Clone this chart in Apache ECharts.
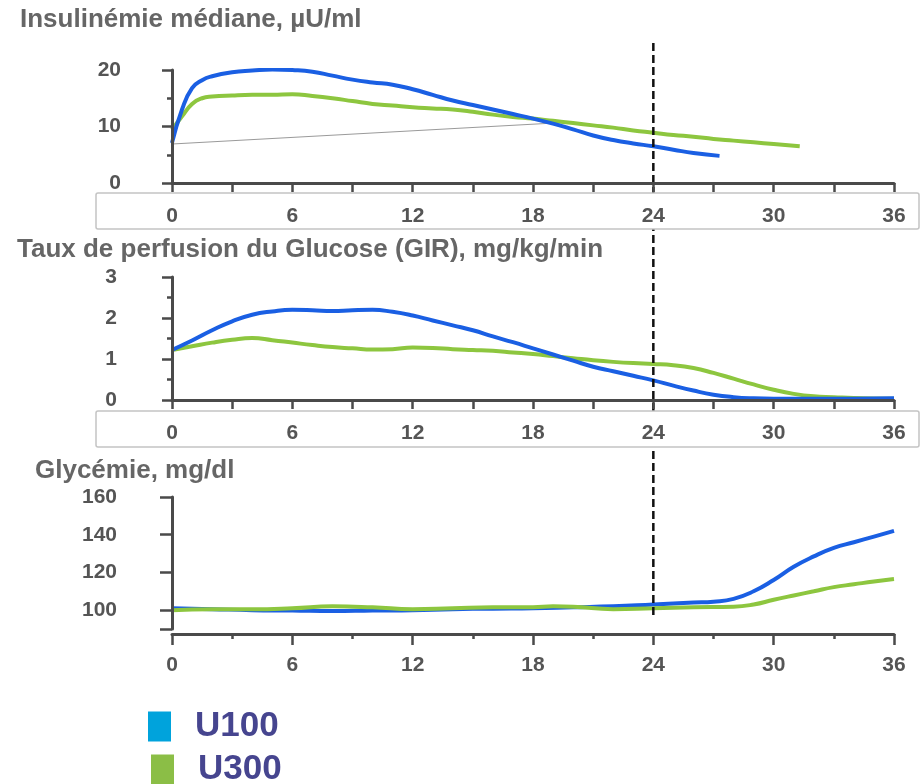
<!DOCTYPE html>
<html><head><meta charset="utf-8">
<script src="https://cdn.jsdelivr.net/npm/echarts@6/dist/echarts.min.js"></script>
<style>html,body{margin:0;padding:0;background:#fff}#c{width:922px;height:784px}</style>
</head><body><div id="c"></div>
<script>
// ---- Data ----
const panelTitles = ['Insulinémie médiane, µU/ml', 'Taux de perfusion du Glucose (GIR), mg/kg/min', 'Glycémie, mg/dl'];
const seriesNames = ['U100', 'U300'];
const xTickLabels = [0, 6, 12, 18, 24, 30, 36];
const markerHour = 24;

// Panel 1 : insulinémie
const insHoursU100 = [0, 0.5, 1, 1.5, 2, 3, 4, 5, 6, 7, 8, 9, 10, 11, 12, 13, 14, 15, 16, 17, 18, 19, 20, 21, 22, 23, 24, 25, 26, 27.3];
const insU100 = [7.1, 13.0, 16.8, 18.2, 18.9, 19.6, 19.9, 20.1, 20.0, 19.7, 19.0, 18.3, 17.8, 17.4, 16.6, 15.6, 14.6, 13.8, 13.0, 12.2, 11.4, 10.5, 9.5, 8.4, 7.6, 7.0, 6.5, 5.9, 5.3, 4.8];
const insHoursU300 = [0, 0.5, 1, 1.5, 2, 3, 4, 5, 6, 7, 8, 9, 10, 11, 12, 13, 14, 15, 16, 17, 18, 19, 20, 21, 22, 23, 24, 25, 26, 27, 28, 29, 30, 31.3];
const insU300 = [9.4, 11.8, 14.0, 15.0, 15.3, 15.5, 15.6, 15.6, 15.7, 15.4, 15.0, 14.5, 14.0, 13.7, 13.4, 13.2, 13.0, 12.6, 12.1, 11.7, 11.4, 11.0, 10.6, 10.2, 9.8, 9.3, 8.9, 8.5, 8.2, 7.8, 7.5, 7.2, 6.9, 6.5];
const insGreyHours = [0, 19.5];
const insGrey = [6.9, 10.7];

// Panel 2 : GIR
const girHoursU100 = [0, 1, 2, 3, 4, 5, 6, 7, 8, 9, 10, 11, 12, 13, 14, 15, 16, 17, 18, 19, 20, 21, 22, 23, 24, 25, 26, 27, 28, 29, 30, 32, 34, 36];
const girU100 = [1.22, 1.45, 1.70, 1.92, 2.08, 2.16, 2.20, 2.19, 2.17, 2.19, 2.20, 2.15, 2.06, 1.94, 1.82, 1.70, 1.55, 1.41, 1.26, 1.11, 0.96, 0.81, 0.70, 0.59, 0.48, 0.35, 0.23, 0.13, 0.07, 0.04, 0.03, 0.03, 0.03, 0.04];
const girHoursU300 = [0, 1, 2, 3, 4, 5, 6, 7, 8, 9, 10, 11, 12, 13, 14, 15, 16, 17, 18, 19, 20, 21, 22, 23, 24, 25, 26, 27, 28, 29, 30, 31, 32, 33, 34, 36];
const girU300 = [1.22, 1.31, 1.40, 1.47, 1.51, 1.46, 1.40, 1.34, 1.29, 1.26, 1.23, 1.24, 1.28, 1.27, 1.24, 1.22, 1.20, 1.16, 1.12, 1.07, 1.02, 0.97, 0.93, 0.90, 0.88, 0.85, 0.78, 0.66, 0.52, 0.38, 0.25, 0.15, 0.09, 0.07, 0.05, 0.03];

// Panel 3 : glycémie
const glyHoursU100 = [0, 2, 4, 6, 8, 10, 12, 14, 16, 18, 20, 22, 24, 26, 27, 28, 29, 30, 31, 32, 33, 34, 35, 36];
const glyU100 = [101, 100.5, 100, 99.8, 99.5, 99.8, 100, 100.5, 100.8, 101, 101.5, 102, 103, 104, 104.5, 106, 110, 116, 123, 128.5, 133, 136, 139, 142];
const glyHoursU300 = [0, 2, 4, 6, 8, 10, 12, 14, 16, 18, 19, 20, 22, 24, 26, 28, 29, 30, 31, 32, 33, 34, 35, 36];
const glyU300 = [100, 100.5, 100.5, 101, 102, 101.5, 100.5, 101, 101.5, 101.5, 102, 101.8, 100.5, 101, 101.5, 101.8, 103, 105.5, 107.8, 110, 112.2, 113.7, 115.2, 116.5];

// ---- Styles ----
const FONT = '"Liberation Sans", Arial, sans-serif';
const BLUE = '#1A5FE3';
const GREEN = '#8DC63F';
const AXIS = '#4a4a4a';
const LABEL = '#555555';
const pair = (xs, ys) => xs.map((x, i) => [x, ys[i]]);

const chart = echarts.init(document.getElementById('c'), null, {renderer: 'canvas'});

const gridLeft = 172, gridRight = 28;
const grids = [
  {left: gridLeft, right: gridRight, top: 70, height: 113},
  {left: gridLeft, right: gridRight, top: 277, height: 123},
  {left: gridLeft, right: gridRight, top: 497, height: 132}
];

function xAxis(gi, offset, margin, boxed) {
  return {
    type: 'value', gridIndex: gi, min: 0, max: 36, interval: 6, offset: offset, z: 6,
    axisLine: {show: true, lineStyle: {color: AXIS, width: 3}},
    axisTick: {show: true, length: boxed ? 9 : 11, lineStyle: {color: AXIS, width: 2.5}},
    minorTick: {show: true, splitNumber: 2, length: boxed ? 9 : 5, lineStyle: {color: AXIS, width: 2.5}},
    splitLine: {show: false}, minorSplitLine: {show: false},
    axisLabel: {margin: margin, color: LABEL, fontSize: 21, fontWeight: 'bold', fontFamily: FONT,
      customValues: xTickLabels, formatter: v => xTickLabels.includes(v) ? String(v) : ''}
  };
}

function yAxis(gi, min, max, interval, margin, extra) {
  return Object.assign({
    type: 'value', gridIndex: gi, min: min, max: max, interval: interval, offset: 35, z: 6,
    axisLine: {show: true, lineStyle: {color: AXIS, width: 3}},
    axisTick: {show: true, length: 10, lineStyle: {color: AXIS, width: 2.5}},
    minorTick: {show: true, splitNumber: 2, length: 5, lineStyle: {color: AXIS, width: 2.5}},
    splitLine: {show: false}, minorSplitLine: {show: false},
    axisLabel: {margin: margin, color: LABEL, fontSize: 21, fontWeight: 'bold', fontFamily: FONT}
  }, extra || {});
}

function line(name, gi, data, color, z, width) {
  return {
    name: name, type: 'line', xAxisIndex: gi, yAxisIndex: gi, data: data,
    smooth: true, showSymbol: false, symbol: 'none', z: z,
    lineStyle: {color: color, width: width || 4}, itemStyle: {color: color},
    emphasis: {disabled: true}
  };
}

function legendItem(name, color, left, top) {
  return {
    orient: 'vertical', left: left, top: top, padding: 0, itemWidth: 23, itemHeight: 30,
    selectedMode: false, icon: 'rect',
    textStyle: {color: '#46458F', fontSize: 35, fontWeight: 'bold', fontFamily: FONT, lineHeight: 30, padding: [0, 0, 0, 19]},
    data: [{name: name, icon: 'rect', itemStyle: {color: color}}]
  };
}

const option = {
  animation: false,
  backgroundColor: '#fff',
  title: [
    {text: panelTitles[0], left: 17, top: 5},
    {text: panelTitles[1], left: 14, top: 235},
    {text: panelTitles[2], left: 32, top: 456}
  ].map(t => Object.assign(t, {padding: [2, 3], textStyle: {color: '#666', fontSize: 26, fontWeight: 'bold', fontFamily: FONT}})),
  legend: [
    legendItem(seriesNames[0], '#00A3DC', 148, 709),
    legendItem(seriesNames[1], '#8BBE46', 151, 752)
  ],
  grid: grids,
  xAxis: [xAxis(0, 1, 22, true), xAxis(1, 6, 17, true), xAxis(2, 5, 21, false)],
  yAxis: [
    yAxis(0, 0, 20, 10, 16),
    yAxis(1, 0, 3, 1, 20),
    yAxis(2, 90, 160, 10, 20, {
      axisTick: {show: true, length: 12, customValues: [90, 100, 120, 140, 160], lineStyle: {color: AXIS, width: 2.5}},
      minorTick: {show: false},
      axisLabel: {margin: 20, color: LABEL, fontSize: 21, fontWeight: 'bold', fontFamily: FONT,
        customValues: [100, 120, 140, 160], formatter: v => (v % 20 === 0 && v >= 100) ? String(v) : ''}
    }),
    {
      type: 'value', gridIndex: 2, min: 90, max: 160, interval: 10, offset: 35, z: 6,
      axisLine: {show: false}, splitLine: {show: false},
      axisTick: {show: true, length: 5, customValues: [110, 130, 150], lineStyle: {color: AXIS, width: 2.5}},
      axisLabel: {show: false}
    }
  ],
  series: [
    {name: 'ref', type: 'line', xAxisIndex: 0, yAxisIndex: 0, data: pair(insGreyHours, insGrey),
     showSymbol: false, symbol: 'none', z: 1, lineStyle: {color: '#9a9a9a', width: 1}, emphasis: {disabled: true}},
    line(seriesNames[0], 0, pair(insHoursU100, insU100), BLUE, 3),
    line(seriesNames[1], 0, pair(insHoursU300, insU300), GREEN, 2),
    line(seriesNames[0], 1, pair(girHoursU100, girU100), BLUE, 3),
    line(seriesNames[1], 1, pair(girHoursU300, girU300), GREEN, 2),
    line(seriesNames[0], 2, pair(glyHoursU100, glyU100), BLUE, 2),
    line(seriesNames[1], 2, pair(glyHoursU300, glyU300), GREEN, 3)
  ]
};

chart.setOption(option);

const xPix = chart.convertToPixel({xAxisIndex: 0}, markerHour);
chart.setOption({
  graphic: [
    {type: 'line', z: 4, shape: {x1: xPix, y1: 43, x2: xPix, y2: 618},
     style: {stroke: '#111', lineWidth: 2.5, lineDash: [8, 4]}},
    {type: 'rect', z: 5, shape: {x: 96, y: 193, width: 823, height: 36, r: 2},
     style: {fill: '#fff', stroke: '#c4c4c4', lineWidth: 1.5}},
    {type: 'rect', z: 5, shape: {x: 96, y: 411, width: 823, height: 36, r: 2},
     style: {fill: '#fff', stroke: '#c4c4c4', lineWidth: 1.5}}
  ]
});
</script>
</body></html>
